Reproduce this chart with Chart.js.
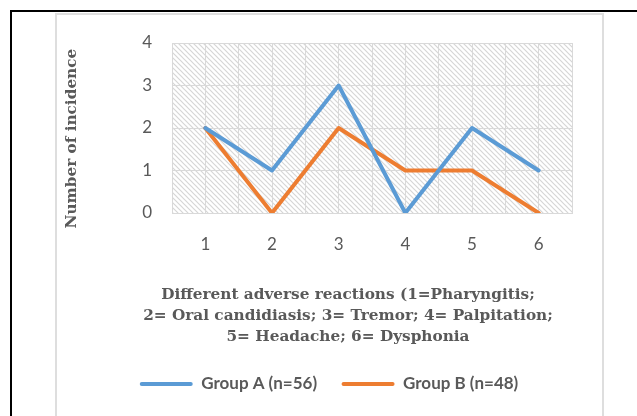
<!DOCTYPE html>
<html>
<head>
<meta charset="utf-8">
<script src="https://cdn.jsdelivr.net/npm/chart.js@4.4.1/dist/chart.umd.min.js"></script>
<style>
  html, body { margin: 0; padding: 0; background: #fff; }
  #wrap { position: relative; width: 637px; height: 416px; overflow: hidden; }
  #outer { position: absolute; left: 10px; top: 10px; width: 700px; height: 500px; border: 2px solid #000; }
  #inner { position: absolute; left: 55px; top: 13px; width: 545px; height: 500px; border: 2px solid #dedede; }
  #c { position: absolute; left: 0; top: 0; }
</style>
</head>
<body>
<div id="wrap">
  <div id="outer"></div>
  <div id="inner"></div>
  <canvas id="c" width="637" height="416"></canvas>
</div>
<script>
const categories = ['1', '2', '3', '4', '5', '6'];
const groupA = [2, 1, 3, 0, 2, 1];
const groupB = [2, 0, 2, 1, 1, 0];
const seriesNames = ['Group A (n=56)', 'Group B (n=48)'];
const yTicks = [0, 1, 2, 3, 4];
const xTitle = ['Different adverse reactions (1=Pharyngitis;', '2= Oral candidiasis; 3= Tremor; 4= Palpitation;', '5= Headache; 6= Dysphonia'];
const yTitle = 'Number of incidence';

const grey = '#595959';
const gridC = '#d9d9d9';

function makePattern() {
  const p = document.createElement('canvas');
  p.width = 5; p.height = 5;
  const g = p.getContext('2d');
  g.fillStyle = '#ffffff';
  g.fillRect(0, 0, 5, 5);
  g.strokeStyle = '#d6d6d6';
  g.lineWidth = 1.2;
  g.beginPath();
  g.moveTo(-1, -1); g.lineTo(6, 6);
  g.moveTo(-1, 4); g.lineTo(1, 6);
  g.moveTo(4, -1); g.lineTo(6, 1);
  g.stroke();
  return p;
}

const hatchPlugin = {
  id: 'hatch',
  beforeDraw(chart) {
    const {ctx, chartArea: a} = chart;
    ctx.save();
    ctx.fillStyle = ctx.createPattern(makePattern(), 'repeat');
    ctx.fillRect(a.left, a.top, a.right - a.left, a.bottom - a.top);
    ctx.restore();
  }
};

const legendShift = {
  id: 'legendShift',
  afterLayout(chart) {
    if (chart.legend) { chart.legend.left -= 19; chart.legend.right -= 19; }
  }
};

const ds = (name, vals, color) => ({
  label: name,
  data: categories.map((c, i) => ({x: i + 1, y: vals[i]})),
  borderColor: color,
  backgroundColor: color,
  borderWidth: 4,
  pointRadius: 0,
  pointHoverRadius: 0,
  tension: 0,
  borderJoinStyle: 'round',
  borderCapStyle: 'round',
  fill: false
});

new Chart(document.getElementById('c'), {
  type: 'line',
  data: {
    datasets: [
      ds(seriesNames[0], groupA, '#5B9BD5'),
      ds(seriesNames[1], groupB, '#ED7D31')
    ]
  },
  plugins: [hatchPlugin, legendShift],
  options: {
    responsive: false,
    animation: false,
    events: [],
    layout: { padding: { left: 59, right: 0, top: 43, bottom: 13.5 } },
    scales: {
      x: {
        type: 'linear',
        min: 0.5, max: 6.5,
        afterBuildTicks(s) { s.ticks = []; for (let v = 0.5; v <= 6.5; v += 0.5) s.ticks.push({value: v}); },
        afterFit(s) { s.height = 55; },
        grid: { color: gridC, lineWidth: 1, drawTicks: false },
        border: { color: gridC, width: 1 },
        ticks: {
          padding: 21,
          autoSkip: false,
          maxRotation: 0,
          color: grey,
          font: { family: 'Lato', size: 17 },
          callback: (v) => Number.isInteger(v) ? categories[v - 1] : ''
        }
      },
      y: {
        min: 0, max: 4,
        afterBuildTicks(s) { s.ticks = yTicks.map(v => ({value: v})); },
        afterFit(s) { s.width = 113; },
        grid: { color: gridC, lineWidth: 1, drawTicks: false },
        border: { display: false },
        ticks: { padding: 20, color: grey, font: { family: 'Lato', size: 17 } },
        title: {
          display: true,
          text: yTitle + '    ',
          color: grey,
          padding: { top: 4, bottom: 0 },
          font: { family: 'DejaVu Serif', size: 15.3, weight: 'bold' }
        }
      },
      yRight: {
        position: 'right',
        display: true,
        grid: { display: false },
        border: { display: false },
        ticks: { display: false },
        afterFit(s) { s.width = 65; }
      }
    },
    plugins: {
      tooltip: { enabled: false },
      title: {
        display: true,
        position: 'bottom',
        weight: 500,
        text: xTitle,
        color: grey,
        padding: { top: 17, bottom: 3 },
        font: { family: 'DejaVu Serif', size: 15.3, weight: 'bold', lineHeight: '21px' }
      },
      legend: {
        display: true,
        position: 'bottom',
        weight: 1000,
        labels: {
          boxWidth: 53,
          boxHeight: 4,
          padding: 24.5,
          color: grey,
          useBorderRadius: true,
          borderRadius: 2,
          font: { family: 'Lato', size: 17, weight: 'bold' },
          generateLabels(chart) {
            return chart.data.datasets.map((d, i) => ({
              text: d.label,
              fillStyle: d.borderColor,
              strokeStyle: d.borderColor,
              lineWidth: 0,
              fontColor: grey,
              borderRadius: 2,
              datasetIndex: i,
              hidden: false
            }));
          }
        }
      }
    }
  }
});
</script>
</body>
</html>
